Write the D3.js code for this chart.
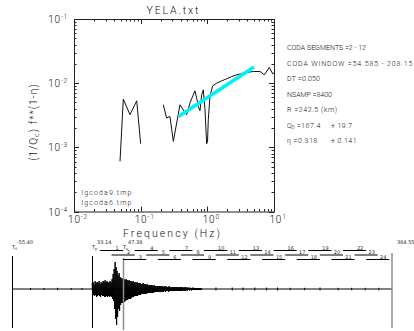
<!DOCTYPE html>
<html><head><meta charset="utf-8">
<script src="https://cdn.jsdelivr.net/npm/d3@7"></script>
<style>
body{margin:0;background:#fff;}
svg text{font-family:"DejaVu Sans",sans-serif;fill:#2a2a2a;}
svg text.lt{font-family:Roboto,"DejaVu Sans",sans-serif;font-weight:300;fill:#111;}
</style></head><body>
<svg id="c" width="414" height="331"></svg>
<script>
// ---- coda Q spectrum (1/Qc * f**(1-eta)) ----
const freqLow  = [0.049, 0.0549, 0.0692, 0.0872, 0.100];
const qinvLow  = [6.05e-4, 5.65e-3, 3.22e-3, 5.31e-3, 1.14e-3];
const freqHigh = [0.219, 0.245, 0.275, 0.309, 0.389, 0.490, 0.550, 0.616, 0.653, 0.700,
                  0.732, 0.776, 0.823, 0.870, 0.923, 0.977, 1.006, 1.034, 1.096, 1.204,
                  1.382, 1.643, 1.952, 2.32, 2.757, 3.20, 3.90, 4.89, 6.17, 7.15,
                  8.50, 9.56, 10.0];
const qinvHigh = [4.6e-3, 2.86e-3, 3.03e-3, 1.24e-3, 4.6e-3, 3.22e-3, 4.94e-3, 6.59e-3, 7.60e-3, 5.51e-3,
                  4.29e-3, 3.72e-3, 6.59e-3, 7.87e-3, 3.85e-3, 1.14e-3, 1.22e-3, 2.69e-3, 6.35e-3, 9.09e-3,
                  1.0e-2, 1.087e-2, 1.17e-2, 1.27e-2, 1.35e-2, 1.40e-2, 1.47e-2, 1.52e-2, 1.52e-2, 1.35e-2,
                  1.76e-2, 1.40e-2, 1.45e-2];
const Q0 = 167.4, Q0err = 19.7, eta = 0.318, etaErr = 0.141;
const fitFreq = [0.37, 5.0];
const legendNames = ["lgcoda9.tmp", "lgcoda6.tmp"];
const infoLines = ["CODA SEGMENTS =2 - 12", "CODA WINDOW =54.585 - 208.15", "DT =0.050",
                   "NSAMP =8400", "R =242.5 (km)"];
const infoWidths = [79, 125.5, 33, 45, 50];
const xTickExp = [-2, -1, 0, 1];
const yTickExp = [-4, -3, -2, -1];

// ---- seismogram with coda segment windows ----
const traceRange = [-55.40, 364.55];
const picks = [{t: -55.40, name: "0", label: "-55.40"}, {t: 33.14, name: "p", label: "33.14"}];
const sPick = {t: 47.38, label: "47.38"};
const codaMark = 67.37;
const segNumbers = [1,2,3,4,5,6,7,8,9,10,11,12,13,14,15,16,17,18,19,20,21,22,23,24];
const segStart = [41.79, 54.58, 67.37, 80.16, 92.95, 105.74, 118.53, 131.32, 144.11, 156.90,
                  169.69, 182.48, 195.27, 208.06, 220.85, 233.64, 246.43, 259.22, 272.01, 284.80,
                  297.59, 310.38, 323.17, 335.96];
const segLength = 25.58;
// envelope of the record after the P pick (sample spacing envStep seconds)
const envStart = 33.14, envStep = 1.105;
const envUp = [6,7,5,8,6,7,6,8,5,7,6,8,7,9,7,8,6,7,8,7,10,15,20,27,22,18,14,16,12,11,
               10,11,10,9,10,9,8,9,8,8,7,8,7,7,6,7,6,6,6,5,5,6,5,5,4,5,4,4,4,4,
               4,3,4,3,3,3,3,3,3,3,3,2,3,2,3,2,2,3,2,2,2,2,2,2,2,2,2,2,2,2,
               2,1.5,1.5,2,1.5,1.5,1.5,1,1.5,1,1,1.5,1,1,1,1,1,1,1,1];
const envDown = [7,6,7,6,8,7,6,7,8,6,7,7,8,8,7,8,7,8,7,8,10,12,20,30,36,28,20,22,16,14,
                 14,13,13,12,11,11,10,10,10,9,8,8,7,7,7,7,6,6,6,5,5,5,5,5,5,4,4,4,4,4,
                 4,4,3,3,3,3,3,3,3,3,3,3,2,3,2,2,3,2,2,2,2,2,2,2,2,2,2,2,2,2,
                 2,1.5,2,1.5,1.5,1.5,1,1.5,1,1.5,1,1,1,1,1,1,1,1,1,1];
const blipTimes = [-35, -20, -5, 10, 22, 170, 188, 200, 213, 226, 238, 252, 268, 285, 305,
                   320, 335, 350];
const blipAmp   = [1, 1, 1.2, 1, 1, 1.5, 1.5, 1.5, 1.5, 1.5, 1.5, 1.2, 1.2, 1.5, 1.2,
                   1.2, 1.2, 1.2];

const svg = d3.select("#c");

// ---------------- spectrum panel ----------------
const x = d3.scaleLog().domain([0.01, 10]).range([74, 274]);
const y = d3.scaleLog().domain([1e-4, 1e-1]).range([211.5, 19]);
const L = 74, R = 274, T = 19, B = 211.5;

const g = svg.append("g");
g.append("rect").attr("x", L + 0.5).attr("y", T + 0.5).attr("width", R - L).attr("height", B - T)
  .attr("fill", "none").attr("stroke", "#222").attr("stroke-width", 1);

function tickList(domain) {
  const out = [];
  for (let e = Math.log10(domain[0]); e < Math.log10(domain[1]); e++) {
    for (let m = 1; m < 10; m++) out.push({v: m * Math.pow(10, e), major: m === 1});
  }
  out.push({v: domain[1], major: true});
  return out;
}
const tk = g.append("g").attr("stroke", "#222").attr("stroke-width", 1);
tickList(x.domain()).forEach(d => {
  const px = Math.round(x(d.v)) + 0.5, len = d.major ? 5 : 2.5;
  tk.append("line").attr("x1", px).attr("x2", px).attr("y1", B).attr("y2", B - len);
  tk.append("line").attr("x1", px).attr("x2", px).attr("y1", T).attr("y2", T + len);
});
tickList(y.domain()).forEach(d => {
  const py = Math.round(y(d.v)) + 0.5, len = d.major ? 5 : 2.5;
  tk.append("line").attr("x1", L).attr("x2", L + len).attr("y1", py).attr("y2", py);
  tk.append("line").attr("x1", R).attr("x2", R - len).attr("y1", py).attr("y2", py);
});

function powLabel(sel, exp) {
  sel.append("tspan").text("10");
  sel.append("tspan").attr("dy", -4).attr("font-size", "6.5px").text(String(exp));
}
xTickExp.forEach(e => {
  const t = g.append("text").attr("class", "lt").attr("x", x(Math.pow(10, e)) + 4).attr("y", 223)
    .attr("text-anchor", "middle").attr("font-size", "10px").attr("letter-spacing", "0.8px");
  powLabel(t, e);
});
yTickExp.forEach(e => {
  const t = g.append("text").attr("class", "lt").attr("x", 68).attr("y", y(Math.pow(10, e)) + 4)
    .attr("text-anchor", "end").attr("font-size", "10px").attr("letter-spacing", "0.8px");
  powLabel(t, e);
});

g.append("text").attr("class", "lt").attr("x", 172.5).attr("y", 14).attr("text-anchor", "middle")
  .attr("font-size", "10.5px").attr("textLength", 52).text("YELA.txt");
g.append("text").attr("class", "lt").attr("x", 123).attr("y", 236.5)
  .attr("font-size", "10.5px").attr("textLength", 97).text("Frequency (Hz)");
const yl = g.append("text").attr("class", "lt").attr("transform", "translate(37,122) rotate(-90)")
  .attr("text-anchor", "middle").attr("font-size", "10px").attr("letter-spacing", "1.1px");
yl.append("tspan").text("(1/Q");
yl.append("tspan").attr("font-size", "7px").attr("dy", 2).text("c");
yl.append("tspan").attr("dy", -2).text(") f**(1-\u03B7)");

const line = d3.line().x(d => x(d[0])).y(d => y(d[1]));
g.append("path").datum(freqLow.map((f, i) => [f, qinvLow[i]])).attr("d", line)
  .attr("fill", "none").attr("stroke", "#111").attr("stroke-width", 1);
g.append("path").datum(freqHigh.map((f, i) => [f, qinvHigh[i]])).attr("d", line)
  .attr("fill", "none").attr("stroke", "#111").attr("stroke-width", 1);
// fitted model Q(f) = Q0 f^eta  ->  (1/Q) f = f^(1-eta)/Q0
g.append("path").datum(fitFreq.map(f => [f, Math.pow(f, 1 - eta) / Q0])).attr("d", line)
  .attr("fill", "none").attr("stroke", "#00f0f8").attr("stroke-width", 3.5);

legendNames.forEach((n, i) => {
  g.append("text").attr("class", "lt").attr("x", 81.5).attr("y", 194.5 + i * 10)
    .attr("font-size", "7px").attr("textLength", 50).text(n);
});

const info = g.append("g").attr("font-size", "7px");
infoLines.forEach((s, i) => {
  info.append("text").attr("class", "lt").attr("x", 287).attr("y", 50 + i * 15.5)
    .attr("textLength", infoWidths[i]).text(s);
});
const qLine = info.append("text").attr("class", "lt").attr("x", 287).attr("y", 50 + 5 * 15.5);
qLine.append("tspan").text("Q");
qLine.append("tspan").attr("font-size", "5px").attr("dy", 1.5).text("0");
qLine.append("tspan").attr("dy", -1.5).attr("letter-spacing", "0.5px").text(" =" + Q0.toFixed(1));
qLine.append("tspan").attr("x", 331).attr("letter-spacing", "0.5px").text("\u00B1 " + Q0err.toFixed(1));
const eLine = info.append("text").attr("class", "lt").attr("x", 287).attr("y", 50 + 6 * 15.5);
eLine.append("tspan").attr("letter-spacing", "0.5px").text("\u03B7 =" + eta.toFixed(3));
eLine.append("tspan").attr("x", 331).attr("letter-spacing", "0.5px").text("\u00B1 " + etaErr.toFixed(3));

// ---------------- seismogram panel ----------------
const tx = d3.scaleLinear().domain(traceRange).range([12, 392]);
const ay = d3.scaleLinear().domain([-40, 40]).range([329, 249]);
const base = ay(0);
const s = svg.append("g");
s.append("line").attr("x1", tx(traceRange[0])).attr("x2", tx(traceRange[1]))
  .attr("y1", base).attr("y2", base).attr("stroke", "#000");

// zig-zag trace between upper and lower envelope
const zz = [];
envUp.forEach((u, i) => {
  const t = envStart + i * envStep;
  zz.push([t, u]);
  zz.push([t + envStep / 2, -envDown[i]]);
});
s.append("path").datum(zz)
  .attr("d", d3.line().x(d => tx(d[0])).y(d => ay(d[1])))
  .attr("fill", "none").attr("stroke", "#000").attr("stroke-width", 1);
blipTimes.forEach((t, i) => {
  s.append("line").attr("x1", tx(t)).attr("x2", tx(t)).attr("y1", ay(blipAmp[i]))
    .attr("y2", ay(-blipAmp[i])).attr("stroke", "#000");
});

// picks: value on the upper line, "T" name on the lower line
const labY = 243.5, subY = 249;
function pickLabel(px, value, name) {
  s.append("text").attr("x", px + 4.5).attr("y", labY).attr("font-size", "5px").text(value);
  const tl = s.append("text").attr("x", px - 0.5).attr("y", subY).attr("font-size", "5px");
  tl.append("tspan").text("T");
  tl.append("tspan").attr("font-size", "3.5px").attr("dy", 0.5).text(name);
}
picks.forEach(p => {
  const px = Math.round(tx(p.t)) + 0.5;
  s.append("line").attr("x1", px).attr("x2", px).attr("y1", 256).attr("y2", 328).attr("stroke", "#000");
  pickLabel(px, p.label, p.name);
});
// S pick label, set at the coda start marker
const cx = Math.round(tx(codaMark)) + 0.5;
s.append("line").attr("x1", cx).attr("x2", cx).attr("y1", 258).attr("y2", 330)
  .attr("stroke", "#8c8c8c").attr("stroke-width", 1.5);
pickLabel(cx, sPick.label, "s");
s.append("line").attr("x1", tx(traceRange[1])).attr("x2", tx(traceRange[1]))
  .attr("y1", 253).attr("y2", 328).attr("stroke", "#8c8c8c").attr("stroke-width", 1.5);
s.append("text").attr("x", 397).attr("y", labY).attr("font-size", "5px").text(traceRange[1].toFixed(2));

// coda segment windows in three staggered rows
const rowY = [250.5, 255, 259.5];
segNumbers.forEach((n, i) => {
  const yy = rowY[i % 3];
  const x0 = tx(segStart[i]), x1 = tx(segStart[i] + segLength);
  s.append("line").attr("x1", x0).attr("x2", x1).attr("y1", yy).attr("y2", yy)
    .attr("stroke", "#000").attr("stroke-width", 1);
  s.append("text").attr("x", x1 - 6).attr("y", yy - 1).attr("text-anchor", "middle")
    .attr("font-size", "5px").text(n);
});
</script>
</body></html>
